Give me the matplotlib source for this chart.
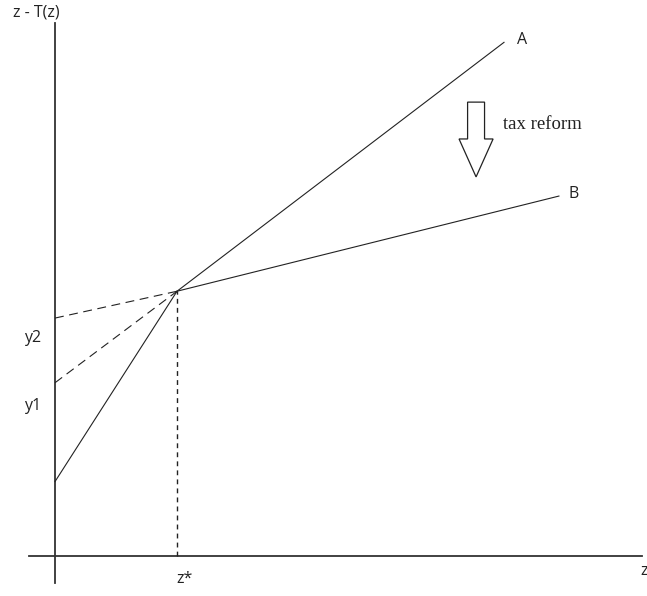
import matplotlib.pyplot as plt
from matplotlib.patches import FancyArrow

# schedule data (units: z* = 1)
z_star = 1.0
y_kink = 2.17
y0 = 0.61       # intercept of the original lower segment
y1 = 1.42       # intercept of line A extended
y2 = 1.95       # intercept of line B extended
line_A_end = (3.68, 4.21)
line_B_end = (4.13, 2.95)

fig = plt.figure(figsize=(6.47, 5.96), dpi=100)
ax = fig.add_axes([0, 0, 1, 1])
ax.set_xlim(-0.451, 4.852)
ax.set_ylim(-0.328, 4.557)
ax.set_axis_off()

ink = '#222222'
sans = ['Open Sans', 'DejaVu Sans']
fs = 11.5

# axes
ax.plot([-0.21, 4.81], [0, 0], color='#333333', lw=1.3)
ax.plot([0, 0], [-0.22, 4.37], color='#333333', lw=1.3)

# budget lines
ax.plot([0, z_star], [y0, y_kink], color=ink, lw=0.8)
ax.plot([z_star, line_A_end[0]], [y_kink, line_A_end[1]], color=ink, lw=0.8)
ax.plot([z_star, line_B_end[0]], [y_kink, line_B_end[1]], color=ink, lw=0.8)

# dashed extensions to the vertical axis
ax.plot([0, z_star], [y1, y_kink], color=ink, lw=0.8, dashes=(8, 5))
ax.plot([0, z_star], [y2, y_kink], color=ink, lw=0.8, dashes=(8, 5))

# dotted drop to z*
ax.plot([z_star, z_star], [0, y_kink], color=ink, lw=1.0, dashes=(3.5, 3))

# labels
ax.text(-0.15, 4.455, 'z - T(z)', fontsize=fs, family=sans, color=ink, ha='center', va='center')
ax.text(-0.18, y2 - 0.16, 'y2', fontsize=fs, family=sans, color=ink, ha='center', va='center')
ax.text(-0.18, y1 - 0.19, 'y1', fontsize=fs, family=sans, color=ink, ha='center', va='center')
ax.text(z_star + 0.06, -0.19, 'z*', fontsize=fs, family=sans, color=ink, ha='center', va='center')
ax.text(4.83, -0.12, 'z', fontsize=fs, family=sans, color=ink, ha='center', va='center')
ax.text(line_A_end[0] + 0.15, line_A_end[1] + 0.02, 'A', fontsize=fs, family=sans, color=ink, ha='center', va='center')
ax.text(line_B_end[0] + 0.12, line_B_end[1] + 0.02, 'B', fontsize=fs, family=sans, color=ink, ha='center', va='center')

# hollow "tax reform" arrow
ax.add_patch(FancyArrow(3.451, 3.72, 0, -0.613, width=0.139, head_width=0.279,
                        head_length=0.311, length_includes_head=True,
                        facecolor='white', edgecolor=ink, lw=0.9))
ax.text(3.67, 3.54, 'tax reform', fontsize=13.5, family=['Liberation Serif', 'DejaVu Serif'],
        color=ink, ha='left', va='center')

fig.savefig('out.png', dpi=100)
